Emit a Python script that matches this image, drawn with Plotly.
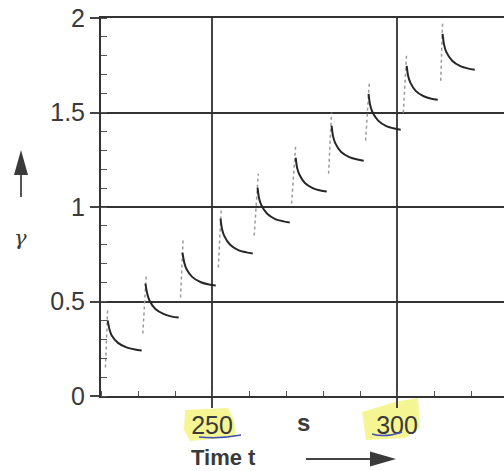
import plotly.graph_objects as go

# ---- data ----
# loading (dotted) segments: start and top of each rise
rise_t_start = [221.2, 231.3, 241.5, 251.7, 261.4, 271.5, 281.5, 291.5, 301.7, 311.8]
rise_g_start = [0.151, 0.331, 0.521, 0.680, 0.849, 1.018, 1.176, 1.351, 1.499, 1.668]
rise_t_top = [221.8, 232.2, 242.2, 252.5, 262.5, 272.6, 282.3, 292.5, 302.6, 312.3]
rise_g_top = [0.463, 0.637, 0.833, 0.991, 1.176, 1.324, 1.499, 1.658, 1.816, 1.975]

# relaxation (solid) curves
relax_t = [
    [221.8, 222.3, 222.9, 224.6, 226.9, 229.2, 231.0],
    [232.0, 232.5, 233.1, 234.7, 237.0, 239.2, 241.0],
    [242.0, 242.5, 243.1, 244.7, 247.0, 249.2, 251.0],
    [252.3, 252.7, 253.3, 254.9, 257.1, 259.3, 261.0],
    [262.3, 262.7, 263.3, 264.9, 267.1, 269.3, 271.0],
    [272.6, 273.0, 273.6, 275.1, 277.2, 279.3, 281.0],
    [282.3, 282.7, 283.3, 284.9, 287.1, 289.3, 291.0],
    [292.3, 292.7, 293.3, 294.9, 297.1, 299.3, 301.0],
    [302.6, 303.0, 303.6, 305.1, 307.2, 309.3, 311.0],
    [312.3, 312.7, 313.3, 314.9, 317.1, 319.3, 321.0],
]
relax_g = [
    [0.400, 0.352, 0.320, 0.281, 0.257, 0.246, 0.241],
    [0.595, 0.541, 0.505, 0.460, 0.433, 0.420, 0.415],
    [0.759, 0.707, 0.672, 0.629, 0.602, 0.590, 0.585],
    [0.939, 0.884, 0.847, 0.800, 0.772, 0.760, 0.754],
    [1.103, 1.048, 1.011, 0.964, 0.936, 0.924, 0.918],
    [1.261, 1.207, 1.172, 1.127, 1.100, 1.087, 1.082],
    [1.430, 1.375, 1.338, 1.291, 1.264, 1.251, 1.245],
    [1.599, 1.542, 1.504, 1.457, 1.428, 1.415, 1.409],
    [1.747, 1.693, 1.658, 1.613, 1.586, 1.573, 1.568],
    [1.916, 1.859, 1.821, 1.774, 1.745, 1.732, 1.726],
]

x_range = [220, 328.9]
y_range = [0, 2]

FONT = "Liberation Sans, Arial, sans-serif"
AX = "#3a3a3a"

fig = go.Figure()

for i in range(len(rise_t_start)):
    fig.add_trace(go.Scatter(
        x=[rise_t_start[i], rise_t_top[i]], y=[rise_g_start[i], rise_g_top[i]],
        mode="lines", line=dict(color="#9a9a9a", width=1.5, dash="dot"),
        hoverinfo="skip", showlegend=False))

for i in range(len(relax_t)):
    fig.add_trace(go.Scatter(
        x=relax_t[i], y=relax_g[i], mode="lines",
        line=dict(color="#262626", width=2.0, shape="spline", smoothing=0.7),
        showlegend=False))

L, R, T, B = 101, 0, 18, 75
W, H = 504, 471
pw, ph = W - L - R, H - T - B


def px(xp):
    return (xp - L) / pw


def py(yp):
    return (H - B - yp) / ph


HL = "rgba(242,243,120,0.8)"
shapes = []
# yellow highlighter marks behind tick labels
shapes.append(dict(type="path", xref="paper", yref="paper", layer="below",
                   path=f"M {px(185)} {py(410)} L {px(228)} {py(408)} L {px(234)} {py(420)} L {px(236)} {py(437)} L {px(190)} {py(441)} L {px(184)} {py(430)} Z",
                   fillcolor=HL, line=dict(width=0)))
shapes.append(dict(type="path", xref="paper", yref="paper", layer="below",
                   path=f"M {px(362)} {py(412)} L {px(395)} {py(402)} L {px(418)} {py(398)} L {px(420)} {py(428)} L {px(405)} {py(438)} L {px(366)} {py(440)} Z",
                   fillcolor=HL, line=dict(width=0)))
# blue pen underlines
shapes.append(dict(type="path", xref="paper", yref="paper",
                   path=f"M {px(199)} {py(437)} Q {px(220)} {py(439)} {px(241)} {py(435)}",
                   line=dict(color="#3f4fc0", width=1.5)))
shapes.append(dict(type="path", xref="paper", yref="paper",
                   path=f"M {px(372)} {py(434)} Q {px(385)} {py(438)} {px(402)} {py(432)}",
                   line=dict(color="#3f4fc0", width=1.5)))
# horizontal arrow
shapes.append(dict(type="line", xref="paper", yref="paper",
                   x0=px(306), y0=py(459), x1=px(372), y1=py(459),
                   line=dict(color="#444", width=2)))
shapes.append(dict(type="path", xref="paper", yref="paper",
                   path=f"M {px(370)} {py(451.5)} L {px(396)} {py(459)} L {px(370)} {py(466.5)} Z",
                   fillcolor="#3a3a3a", line=dict(width=0)))
# vertical arrow
shapes.append(dict(type="line", xref="paper", yref="paper",
                   x0=px(21), y0=py(197), x1=px(21), y1=py(172),
                   line=dict(color="#555", width=2)))
shapes.append(dict(type="path", xref="paper", yref="paper",
                   path=f"M {px(14)} {py(175)} L {px(21)} {py(150)} L {px(28)} {py(175)} Z",
                   fillcolor="#3a3a3a", line=dict(width=0)))

annotations = [
    dict(text="<b>s</b>", x=274.6, xref="x", y=py(422), yref="paper",
         showarrow=False, font=dict(family=FONT, size=24, color=AX),
         xanchor="center", yanchor="middle"),
    dict(text="<b>Time t</b>", x=px(189), xref="paper", y=py(457), yref="paper",
         showarrow=False, font=dict(family=FONT, size=22, color=AX),
         xanchor="left", yanchor="middle"),
    dict(text="<i>γ</i>", x=px(20), xref="paper", y=py(238), yref="paper",
         showarrow=False, font=dict(family="DejaVu Serif, serif", size=21, color=AX),
         xanchor="center", yanchor="middle"),
]

fig.update_layout(
    width=W, height=H,
    margin=dict(l=L, r=R, t=T, b=B, pad=0),
    paper_bgcolor="white", plot_bgcolor="white",
    shapes=shapes, annotations=annotations,
    font=dict(family=FONT, color=AX),
)

fig.update_xaxes(
    range=x_range, tick0=0, dtick=50,
    showgrid=True, gridcolor="#444", gridwidth=1.5,
    showline=True, linecolor="#333", linewidth=2, mirror=True,
    ticks="outside", ticklen=10, tickwidth=1.5, tickcolor="#444",
    ticklabelstandoff=-4,
    tickfont=dict(family=FONT, size=25, color=AX),
    minor=dict(ticks="inside", dtick=10, tick0=0, ticklen=5, tickwidth=1, tickcolor="#555", showgrid=False),
    zeroline=False,
)
fig.update_yaxes(
    range=y_range, tick0=0, dtick=0.5,
    showgrid=True, gridcolor="#333", gridwidth=2,
    showline=True, linecolor="#333", linewidth=2,
    ticks="outside", ticklen=9, tickwidth=1.5, tickcolor="#444",
    tickfont=dict(family=FONT, size=25, color=AX),
    minor=dict(ticks="inside", dtick=0.1, tick0=0, ticklen=6, tickwidth=1, tickcolor="#555", showgrid=False),
    zeroline=False,
)

fig.write_html("out.html")
